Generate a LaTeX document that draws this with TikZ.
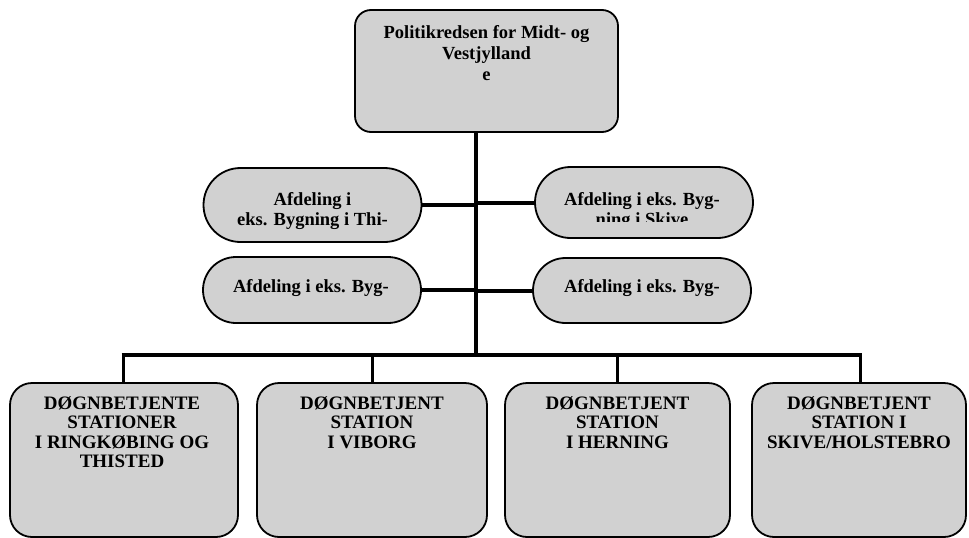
\documentclass[tikz,border=0pt]{standalone}
\usepackage{fontspec}
\setmainfont{Liberation Serif}
\usetikzlibrary{shapes.misc}
\begin{document}
\begin{tikzpicture}[x=1pt,y=-1pt,
 boxfill/.style={draw=black, line width=1.8pt, fill=black!18},
 topbox/.style={boxfill, rectangle, rounded corners=16pt, inner sep=0pt, minimum width=263pt, minimum height=122pt},
 ovalbox/.style={boxfill, rounded rectangle, inner sep=0pt, minimum width=218pt},
 stationbox/.style={boxfill, rectangle, rounded corners=22pt, inner sep=0pt, minimum height=154pt},
 boxtext/.style={font=\bfseries\fontsize{19}{20}\selectfont, align=center, inner sep=0pt, anchor=north},
 ovaltext/.style={font=\bfseries\fontsize{18.5}{20}\selectfont, align=center, inner sep=0pt, anchor=north},
 trunk/.style={line width=4pt},
 arm/.style={line width=4pt},
 bus/.style={line width=4.5pt},
 drop/.style={line width=3pt},
]
\useasboundingbox (0,0) rectangle (969,538);

% boxes
\node[topbox] (top) at (486.5,71) {};
\node[ovalbox, minimum height=74pt] (ul) at (312.5,205) {};
\node[ovalbox, minimum height=71pt] (ur) at (644,202.5) {};
\node[ovalbox, minimum height=66pt] (ll) at (312,290) {};
\node[ovalbox, minimum height=65pt] (lr) at (642,290.5) {};
\node[stationbox, minimum width=228pt] (b1) at (124,460) {};
\node[stationbox, minimum width=230pt] (b2) at (372,460) {};
\node[stationbox, minimum width=225pt] (b3) at (617.5,460) {};
\node[stationbox, minimum width=214pt] (b4) at (859,460) {};

% texts
\node[boxtext, font=\bfseries\fontsize{18.5}{21}\selectfont] (toptext) at (486.5,25) {Politikredsen for Midt- og\\Vestjylland\\e};
\node[ovaltext] (ultext) at (312.5,192) {Afdeling i\\eks. Bygning i Thi-};
\begin{scope}
 \clip (530,160) rectangle (760,221);
 \node[ovaltext] (urtext) at (642,192) {Afdeling i eks. Byg-\\ning i Skive};
\end{scope}
\node[ovaltext] (lltext) at (311,279) {Afdeling i eks. Byg-};
\node[ovaltext] (lrtext) at (642,279) {Afdeling i eks. Byg-};
\node[boxtext, font=\bfseries\fontsize{19}{19.5}\selectfont] (b1text) at (122,396) {DØGNBETJENTE\\STATIONER\\I RINGKØBING OG\\THISTED};
\node[boxtext, font=\bfseries\fontsize{19}{19.5}\selectfont] (b2text) at (372,396) {DØGNBETJENT\\STATION\\I VIBORG};
\node[boxtext, font=\bfseries\fontsize{19}{19.5}\selectfont] (b3text) at (617.5,396) {DØGNBETJENT\\STATION\\I HERNING};
\node[boxtext, font=\bfseries\fontsize{19}{19.5}\selectfont] (b4text) at (859,396) {DØGNBETJENT\\STATION I\\SKIVE/HOLSTEBRO};

% connectors
\coordinate (vtop) at (476,132);
\coordinate (vbot) at (476,355);
\coordinate (busL) at (123,355);
\coordinate (busR) at (860,355);
\draw[trunk] (vtop) -- (vbot);
\draw[arm] (ul.east) -- (ul.east -| vtop);
\draw[arm] (ur.west) -- (ur.west -| vtop);
\draw[arm] (ll.east) -- (ll.east -| vtop);
\draw[arm] (lr.west) -- (lr.west -| vtop);
\draw[bus] ([xshift=-1.5pt]busL) -- ([xshift=1.5pt]busR);
\draw[drop] (busL) -- (busL |- b1.north);
\draw[drop] (b2.north |- busL) -- (b2.north);
\draw[drop] (b3.north |- busL) -- (b3.north);
\draw[drop] (busR) -- (busR |- b4.north);
\end{tikzpicture}
\end{document}
